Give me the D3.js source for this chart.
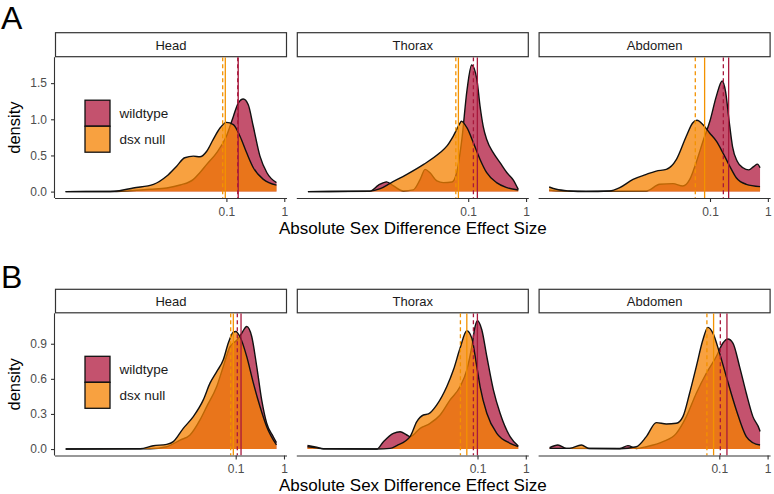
<!DOCTYPE html>
<html>
<head>
<meta charset="utf-8">
<script src="https://cdn.jsdelivr.net/npm/d3@7"></script>
<style>
  html, body { margin: 0; padding: 0; background: #fff; }
  svg { display: block; font-family: "Liberation Sans", Arial, sans-serif; }
</style>
</head>
<body>
<svg id="chart" width="774" height="494"></svg>
<script>
'use strict';

// ── Data ───────────────────────────────────────────────────────────────────
const FACETS = ['Head', 'Thorax', 'Abdomen'];
const GROUPS = ['wildtype', 'dsx null'];
const X_TICKS = [0.1, 1];
const X_TICK_LABELS = ['0.1', '1'];
const Y_TICKS_A = [0, 0.5, 1.0, 1.5];
const Y_TICKS_B = [0, 0.3, 0.6, 0.9];

// density curves: [log10(effect size), density]
const headA_wild = [[-3.78,0],[-2.9,0.002],[-2.32,0.032],[-2.03,0.05],[-1.8,0.091],[-1.57,0.169],
  [-1.46,0.261],[-1.34,0.376],[-1.17,0.536],[-1.0,0.765],[-0.88,1.04],[-0.795,1.224],[-0.708,1.28],
  [-0.622,1.2],[-0.535,0.9],[-0.42,0.49],[-0.3,0.261],[-0.135,0.124]];
const headA_dsx = [[-3.78,0],[-3.01,0.002],[-2.85,0.012],[-2.61,0.05],[-2.26,0.1],[-2.03,0.215],
  [-1.86,0.352],[-1.72,0.468],[-1.57,0.49],[-1.46,0.481],[-1.34,0.558],[-1.23,0.72],[-1.11,0.88],
  [-1.0,0.957],[-0.88,0.926],[-0.765,0.765],[-0.65,0.536],[-0.535,0.33],[-0.36,0.169],[-0.135,0.09]];
const thoraxA_wild = [[-3.77,0],[-2.7,0.005],[-2.55,0.09],[-2.41,0.135],[-2.29,0.078],[-2.12,0.009],
  [-1.95,0.023],[-1.83,0.169],[-1.745,0.307],[-1.66,0.261],[-1.54,0.147],[-1.43,0.124],[-1.28,0.133],
  [-1.2,0.261],[-1.11,0.72],[-1.02,1.408],[-0.94,1.75],[-0.85,1.55],[-0.795,1.18],[-0.74,0.9],
  [-0.68,0.72],[-0.565,0.536],[-0.45,0.4],[-0.33,0.26],[-0.22,0.16],[-0.135,0.03]];
const thoraxA_dsx = [[-3.77,0],[-2.7,0.006],[-2.52,0.04],[-2.35,0.115],[-2.06,0.238],[-1.77,0.376],
  [-1.49,0.536],[-1.37,0.628],[-1.26,0.765],[-1.14,0.949],[-1.12,0.975],[-1.02,0.88],[-0.91,0.674],
  [-0.795,0.445],[-0.68,0.261],[-0.51,0.124],[-0.33,0.055],[-0.135,0.023]];
const abdomenA_wild = [[-3.78,0.02],[-3.66,0.01],[-3.43,0.005],[-2.1,0.009],[-1.87,0.101],[-1.64,0.11],
  [-1.47,0.078],[-1.35,0.169],[-1.24,0.4],[-1.12,0.7],[-1.0,0.98],[-0.89,1.32],[-0.79,1.53],
  [-0.73,1.38],[-0.67,0.98],[-0.61,0.62],[-0.53,0.42],[-0.43,0.33],[-0.33,0.3],[-0.24,0.35],
  [-0.18,0.38],[-0.135,0.33]];
const abdomenA_dsx = [[-3.78,0.064],[-3.656,0.032],[-3.43,0.009],[-3.14,0],[-2.735,0.009],[-2.56,0.055],
  [-2.33,0.169],[-2.1,0.238],[-1.93,0.284],[-1.755,0.307],[-1.58,0.445],[-1.41,0.765],[-1.3,0.949],
  [-1.226,0.986],[-1.12,0.926],[-1.007,0.811],[-0.89,0.697],[-0.777,0.536],[-0.66,0.353],
  [-0.546,0.192],[-0.373,0.101],[-0.135,0.069]];

const headB_wild = [[-4.52,0],[-2.774,0.002],[-2.428,0.02],[-2.153,0.077],[-1.946,0.12],[-1.739,0.249],
  [-1.6,0.363],[-1.393,0.534],[-1.257,0.705],[-1.118,0.876],[-0.978,0.93],[-0.876,0.99],[-0.771,1.048],
  [-0.668,0.962],[-0.564,0.705],[-0.462,0.42],[-0.358,0.22],[-0.222,0.105],[-0.156,0.055]];
const headB_dsx = [[-4.52,0],[-2.98,0.003],[-2.706,0.028],[-2.428,0.04],[-2.292,0.063],[-2.085,0.177],
  [-1.878,0.277],[-1.671,0.42],[-1.532,0.563],[-1.393,0.662],[-1.257,0.763],[-1.153,0.906],
  [-1.049,1.0],[-1.0,1.005],[-0.911,0.96],[-0.771,0.79],[-0.634,0.563],[-0.497,0.363],
  [-0.358,0.191],[-0.156,0.035]];
const thoraxB_wild = [[-4.52,0.03],[-4.33,0.015],[-4.19,0.002],[-3.085,0],[-2.948,0.063],[-2.741,0.134],
  [-2.602,0.148],[-2.464,0.12],[-2.395,0.106],[-2.188,0.177],[-1.981,0.22],[-1.774,0.291],
  [-1.567,0.42],[-1.36,0.534],[-1.221,0.677],[-1.118,0.876],[-1.049,1.048],[-1.002,1.097],
  [-0.911,1.02],[-0.807,0.791],[-0.671,0.506],[-0.532,0.306],[-0.325,0.106],[-0.156,0.026]];
const thoraxB_dsx = [[-4.52,0.02],[-4.33,0.01],[-4.19,0.003],[-3.085,0],[-2.809,0.006],[-2.671,0.03],
  [-2.395,0.106],[-2.257,0.234],[-2.12,0.291],[-2.016,0.3],[-1.843,0.377],[-1.635,0.534],
  [-1.498,0.677],[-1.36,0.863],[-1.221,1.011],[-1.118,0.948],[-1.014,0.705],[-0.946,0.534],
  [-0.807,0.306],[-0.6,0.134],[-0.325,0.049],[-0.156,0.02]];
const abdomenB_wild = [[-4.513,0.011],[-4.341,0.034],[-4.168,0.006],[-3.064,0.004],[-2.892,0.029],
  [-2.718,0.005],[-2.511,0.02],[-2.167,0.063],[-1.89,0.134],[-1.683,0.277],[-1.476,0.477],
  [-1.269,0.648],[-1.062,0.791],[-0.925,0.906],[-0.822,0.94],[-0.718,0.906],[-0.58,0.705],
  [-0.441,0.477],[-0.304,0.277],[-0.165,0.163],[-0.156,0.15]];
const abdomenB_dsx = [[-4.513,0.006],[-4.341,0.006],[-4.099,0.006],[-3.857,0.034],[-3.685,0.004],
  [-3.064,0.002],[-2.718,0.02],[-2.511,0.106],[-2.304,0.226],[-2.097,0.214],[-1.89,0.22],
  [-1.753,0.277],[-1.615,0.477],[-1.476,0.705],[-1.339,0.934],[-1.236,1.04],[-1.132,0.991],
  [-0.994,0.82],[-0.855,0.62],[-0.648,0.334],[-0.441,0.106],[-0.304,0.054],[-0.156,0.034]];

// summary lines per facet (Head, Thorax, Abdomen): dashed and solid
const dashA_wild  = [0.157, 0.123, 0.170];
const solidA_wild = [0.160, 0.144, 0.210];
const dashA_dsx   = [0.0863, 0.0611, 0.0557];
const solidA_dsx  = [0.0957, 0.0677, 0.0807];
const dashB_wild  = [0.108, 0.0823, 0.105];
const solidB_wild = [0.129, 0.0996, 0.144];
const dashB_dsx   = [0.0788, 0.0443, 0.0554];
const solidB_dsx  = [0.0893, 0.0601, 0.0762];

// ── Style ──────────────────────────────────────────────────────────────────
const COLORS = { 'wildtype': '#b0183e', 'dsx null': '#f58200' };
const LINE_COLORS = { 'wildtype': '#a8183c', 'dsx null': '#f39200' };
const FILL_ALPHA = 0.75;
const PANEL_LEFTS = [55, 296.8, 538.6];
const PANEL_W = 232;
const FONT = '"Liberation Sans", Arial, sans-serif';

const svg = d3.select('#chart');

// ── One figure (row of three facets) ──────────────────────────────────────
function drawFigure(cfg) {
  const logMin = cfg.dataRange[0], logMax = cfg.dataRange[1];
  const padX = (logMax - logMin) * 0.05;
  const yPad = cfg.yMax * 0.05;

  const y = d3.scaleLinear()
    .domain([-yPad, cfg.yMax + yPad])
    .range([cfg.panelBottom, cfg.panelTop]);

  // tag letter
  svg.append('text')
    .attr('x', 1).attr('y', cfg.tagY)
    .attr('font-size', '32px').attr('fill', '#000')
    .text(cfg.tag);

  FACETS.forEach((facet, i) => {
    const left = PANEL_LEFTS[i];
    const x = d3.scaleLog()
      .domain([Math.pow(10, logMin - padX), Math.pow(10, logMax + padX)])
      .range([left, left + PANEL_W]);

    // strip
    svg.append('rect')
      .attr('x', left + 0.5).attr('y', cfg.stripTop)
      .attr('width', PANEL_W - 1).attr('height', cfg.panelTop - cfg.stripTop - 0.5)
      .attr('fill', '#fff').attr('stroke', '#333').attr('stroke-width', 1.2);
    svg.append('text')
      .attr('x', left + PANEL_W / 2).attr('y', (cfg.stripTop + cfg.panelTop) / 2 + 0.5)
      .attr('text-anchor', 'middle').attr('dominant-baseline', 'central')
      .attr('font-size', '13px').attr('fill', '#1a1a1a')
      .text(facet);

    const clipId = `clip-${cfg.tag}-${i}`;
    svg.append('clipPath').attr('id', clipId)
      .append('rect')
      .attr('x', left).attr('y', cfg.panelTop)
      .attr('width', PANEL_W).attr('height', cfg.panelBottom - cfg.panelTop);

    const g = svg.append('g').attr('clip-path', `url(#${clipId})`);

    GROUPS.forEach(grp => {
      const pts = cfg.dens[facet][grp].map(([lx, d]) => ({ v: Math.pow(10, lx), d }));
      const area = d3.area()
        .x(p => x(p.v)).y0(y(0)).y1(p => y(p.d))
        .curve(d3.curveMonotoneX);
      const line = d3.line()
        .x(p => x(p.v)).y(p => y(p.d))
        .curve(d3.curveMonotoneX);
      g.append('path').datum(pts)
        .attr('d', area)
        .attr('fill', COLORS[grp]).attr('fill-opacity', FILL_ALPHA);
      g.append('path').datum(pts)
        .attr('d', line)
        .attr('fill', 'none').attr('stroke', '#111').attr('stroke-width', 1.4);
    });

    // summary lines
    GROUPS.forEach(grp => {
      const ln = cfg.lines[grp];
      [['dash', '4,3'], ['solid', null]].forEach(([k, dash]) => {
        const xv = x(ln[k][i]);
        g.append('line')
          .attr('x1', xv).attr('x2', xv)
          .attr('y1', cfg.panelTop).attr('y2', cfg.panelBottom)
          .attr('stroke', LINE_COLORS[grp]).attr('stroke-width', 1.3)
          .attr('stroke-dasharray', dash);
      });
    });

    // x axis
    const xa = svg.append('g')
      .attr('transform', `translate(0,${cfg.panelBottom})`)
      .call(d3.axisBottom(x).tickValues(X_TICKS)
        .tickFormat((d, j) => X_TICK_LABELS[j]).tickSize(4).tickPadding(5));
    xa.select('.domain').attr('stroke', '#333').attr('stroke-width', 1.1)
      .attr('d', `M${left},0.5H${left + PANEL_W}`);
    xa.selectAll('.tick line').attr('stroke', '#333').attr('stroke-width', 1.1);
    xa.selectAll('text').attr('fill', '#4d4d4d').attr('font-size', '12px')
      .attr('font-family', FONT);

    if (i === 0) {
      const ya = svg.append('g')
        .attr('transform', `translate(${left},0)`)
        .call(d3.axisLeft(y).tickValues(cfg.yTicks)
          .tickFormat(d3.format('.1f')).tickSize(4).tickPadding(4));
      ya.select('.domain').attr('stroke', '#333').attr('stroke-width', 1.1)
        .attr('d', `M-0.5,${cfg.panelTop}V${cfg.panelBottom}`);
      ya.selectAll('.tick line').attr('stroke', '#333').attr('stroke-width', 1.1);
      ya.selectAll('text').attr('fill', '#4d4d4d').attr('font-size', '12px')
        .attr('font-family', FONT);

      // legend
      GROUPS.forEach((grp, k) => {
        const ky = cfg.panelTop + 43 + k * 26;
        svg.append('rect')
          .attr('x', left + 30).attr('y', ky)
          .attr('width', 25).attr('height', 26)
          .attr('fill', COLORS[grp]).attr('fill-opacity', FILL_ALPHA)
          .attr('stroke', '#111').attr('stroke-width', 1.3);
        svg.append('text')
          .attr('x', left + 64.5).attr('y', ky + 13)
          .attr('dominant-baseline', 'central')
          .attr('font-size', '13.5px').attr('fill', '#1a1a1a')
          .text(grp);
      });
    }
  });

  // axis titles
  svg.append('text')
    .attr('x', (PANEL_LEFTS[0] + PANEL_LEFTS[2] + PANEL_W) / 2)
    .attr('y', cfg.panelBottom + 35.5)
    .attr('text-anchor', 'middle').attr('font-size', '17px').attr('fill', '#000')
    .text('Absolute Sex Difference Effect Size');
  svg.append('text')
    .attr('transform', `translate(20,${(cfg.panelTop + cfg.panelBottom) / 2}) rotate(-90)`)
    .attr('text-anchor', 'middle').attr('font-size', '16.5px').attr('fill', '#000')
    .text('density');
}

drawFigure({
  tag: 'A', tagY: 29,
  stripTop: 32.7, panelTop: 57.2, panelBottom: 198,
  dataRange: [-3.78, -0.135], yMax: 1.77, yTicks: Y_TICKS_A,
  dens: {
    'Head':    { 'wildtype': headA_wild,    'dsx null': headA_dsx },
    'Thorax':  { 'wildtype': thoraxA_wild,  'dsx null': thoraxA_dsx },
    'Abdomen': { 'wildtype': abdomenA_wild, 'dsx null': abdomenA_dsx },
  },
  lines: {
    'wildtype': { dash: dashA_wild, solid: solidA_wild },
    'dsx null': { dash: dashA_dsx,  solid: solidA_dsx },
  },
});

drawFigure({
  tag: 'B', tagY: 288,
  stripTop: 289.3, panelTop: 313.3, panelBottom: 455.5,
  dataRange: [-4.523, -0.156], yMax: 1.105, yTicks: Y_TICKS_B,
  dens: {
    'Head':    { 'wildtype': headB_wild,    'dsx null': headB_dsx },
    'Thorax':  { 'wildtype': thoraxB_wild,  'dsx null': thoraxB_dsx },
    'Abdomen': { 'wildtype': abdomenB_wild, 'dsx null': abdomenB_dsx },
  },
  lines: {
    'wildtype': { dash: dashB_wild, solid: solidB_wild },
    'dsx null': { dash: dashB_dsx,  solid: solidB_dsx },
  },
});
</script>
</body>
</html>
